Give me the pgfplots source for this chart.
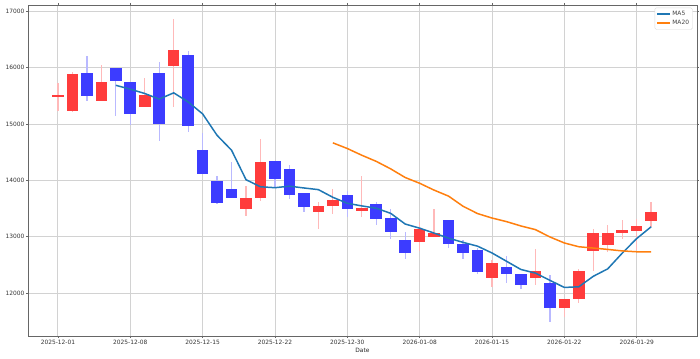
\documentclass[border=0pt]{standalone}
\usepackage{pgfplots}
\usepackage{pgfplotstable}
\usepackage{fontspec}
\setmainfont{DejaVu Sans}
\pgfplotsset{compat=1.18}
\definecolor{upbody}{RGB}{255,60,60}
\definecolor{downbody}{RGB}{60,60,255}
\definecolor{upwick}{RGB}{255,185,185}
\definecolor{downwick}{RGB}{185,185,255}
\definecolor{ma5c}{RGB}{31,119,180}
\definecolor{ma20c}{RGB}{255,127,14}

\pgfplotstableread{
x o h l c
0 15485 15722 15237 15515
1 15237 15917 15219 15893
3 15414 16047 15414 15751
6 15296 15811 15296 15509
8 16030 16858 15308 16308
13 13485 13899 13367 13692
14 13692 14734 13627 14331
18 13444 13621 13130 13544
19 13550 13846 13402 13651
21 13450 14077 13355 13509
25 12899 13266 12751 13130
26 13000 13485 13000 13071
30 12260 12580 12107 12527
33 12272 12775 12136 12396
35 11734 11900 11574 11893
36 11893 12426 11817 12396
37 12740 13130 12396 13065
38 12852 13201 12722 13059
39 13059 13296 12953 13118
40 13106 13308 12763 13189
41 13278 13621 13178 13444
}\up

\pgfplotstableread{
x o h l c
2 15899 16207 15414 15503
4 16000 16000 15142 15769
5 15740 15740 14982 15172
7 15899 16095 14704 15006
9 16225 16296 14864 14959
10 14533 14834 14112 14112
11 13982 14083 13574 13604
12 13852 14331 13686 13686
15 14337 14337 13888 14030
16 14201 14272 13669 13740
17 13781 13781 13444 13527
20 13734 13811 13355 13497
22 13586 13621 13213 13320
23 13325 13485 12953 13089
24 12941 13089 12598 12704
27 13296 13296 12805 12870
28 12876 12947 12598 12716
29 12757 12805 12343 12367
31 12462 12651 12172 12337
32 12337 12337 12077 12136
34 12178 12314 11485 11728
}\down

\pgfplotstableread{
x ma
4 15686.2
5 15617.6
6 15540.8
7 15441.4
8 15552.8
9 15390.8
10 15178.8
11 14797.8
12 14533.8
13 14010.6
14 13885.0
15 13868.6
16 13895.8
17 13864.0
18 13834.4
19 13698.4
20 13591.8
21 13545.6
22 13504.2
23 13413.2
24 13223.8
25 13150.4
26 13062.8
27 12972.8
28 12898.2
29 12830.8
30 12710.2
31 12563.4
32 12416.6
33 12352.6
34 12224.8
35 12098.0
36 12109.8
37 12295.6
38 12428.2
39 12706.2
40 12965.4
41 13175.0
}\mafive

\pgfplotstableread{
x ma
19 14665.1
20 14564.2
21 14445.0
22 14335.9
23 14202.8
24 14049.5
25 13947.4
26 13825.5
27 13718.7
28 13539.1
29 13409.5
30 13330.3
31 13266.9
32 13189.4
33 13124.6
34 12994.5
35 12887.6
36 12820.4
37 12797.3
38 12773.1
39 12746.4
40 12731.0
41 12727.8
}\matwenty

\begin{document}
\begin{tikzpicture}
\path[use as bounding box] (-28bp,-23bp) rectangle (672bp,336bp);
\begin{axis}[
  at={(0,0)}, anchor=south west,
  scale only axis,
  width=669bp, height=331bp,
  xmin=-2.07, xmax=44.17,
  ymin=11236, ymax=17112,
  xtick={0,5,...,40},
  xticklabels={2025-12-01,2025-12-08,2025-12-15,2025-12-22,2025-12-30,2026-01-08,2026-01-15,2026-01-22,2026-01-29},
  ytick={12000,13000,14000,15000,16000,17000},
  scaled y ticks=false,
  yticklabel style={/pgf/number format/fixed, /pgf/number format/1000 sep={}},
  /pgf/number format/1000 sep={},
  /pgf/number format/assume math mode=true,
  tick label style={font=\fontsize{5.9bp}{7bp}\selectfont, text=black!80, inner sep=1.5bp},
  tick align=outside,
  major tick length=2bp,
  tick style={black!60, line width=0.6bp},
  axis line style={black!60, line width=0.8bp},
  grid=major,
  major grid style={gray!35, line width=0.9bp},
  xlabel={Date},
  xlabel style={font=\fontsize{5.9bp}{7bp}\selectfont, text=black!85, yshift=1bp},
  legend style={at={(0.9936,0.992)}, anchor=north east, draw=gray!30, rounded corners=1.5bp,
    fill=white, font=\fontsize{5.9bp}{7bp}\selectfont, text=black!75, inner sep=1.5bp,
    row sep=-1bp},
  legend cell align=left,
  legend image code/.code={\draw[#1] (0bp,0bp) -- (12.6bp,0bp);},
]
\addplot[draw=none, no markers, forget plot,
  error bars/.cd, y dir=both, y explicit, error mark=none,
  error bar style={line width=1.3bp, draw=upwick}]
  table[x=x, y expr={(\thisrow{h}+\thisrow{l})/2}, y error expr={(\thisrow{h}-\thisrow{l})/2}] {\up};
\addplot[draw=none, no markers, forget plot,
  error bars/.cd, y dir=both, y explicit, error mark=none,
  error bar style={line width=1.3bp, draw=downwick}]
  table[x=x, y expr={(\thisrow{h}+\thisrow{l})/2}, y error expr={(\thisrow{h}-\thisrow{l})/2}] {\down};
\addplot[draw=none, no markers, forget plot,
  error bars/.cd, y dir=both, y explicit, error mark=none,
  error bar style={line width=11.6bp, draw=upbody}]
  table[x=x, y expr={(\thisrow{o}+\thisrow{c})/2}, y error expr={abs(\thisrow{c}-\thisrow{o})/2}] {\up};
\addplot[draw=none, no markers, forget plot,
  error bars/.cd, y dir=both, y explicit, error mark=none,
  error bar style={line width=11.6bp, draw=downbody}]
  table[x=x, y expr={(\thisrow{o}+\thisrow{c})/2}, y error expr={abs(\thisrow{c}-\thisrow{o})/2}] {\down};
\addplot[ma5c, line width=1.5bp, mark=none] table[x=x, y=ma] {\mafive};
\addlegendentry{MA5}
\addplot[ma20c, line width=1.5bp, mark=none] table[x=x, y=ma] {\matwenty};
\addlegendentry{MA20}
\end{axis}
\end{tikzpicture}
\end{document}
